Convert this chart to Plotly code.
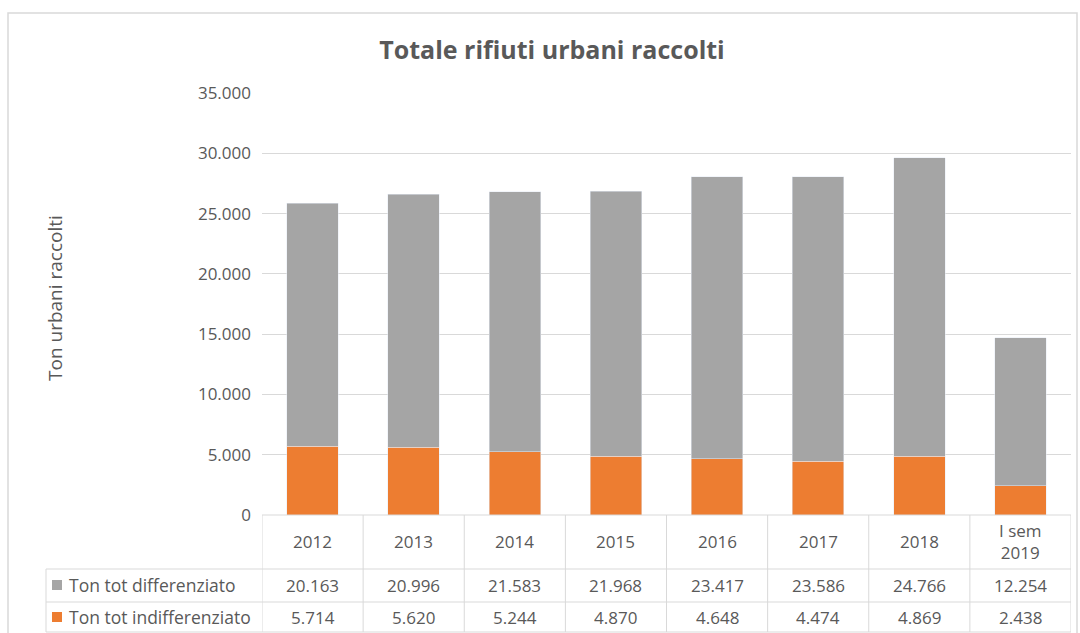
import plotly.graph_objects as go

# dati
categorie = ["2012", "2013", "2014", "2015", "2016", "2017", "2018", "I sem<br>2019"]
differenziato = [20163, 20996, 21583, 21968, 23417, 23586, 24766, 12254]
indifferenziato = [5714, 5620, 5244, 4870, 4648, 4474, 4869, 2438]
nomi_serie = ["Ton tot differenziato", "Ton tot indifferenziato"]
griglia = [5000, 10000, 15000, 20000, 25000, 30000]
tick_y = [0, 5000, 10000, 15000, 20000, 25000, 30000, 35000]

GRIGIO = "#A5A5A5"
ARANCIO = "#ED7D31"
TESTO = "#595959"
LINEA = "#D9D9D9"
FONT = "Open Sans, Lato, sans-serif"

W, H = 1080, 633
L, R, T, B = 262, 1071, 93, 515


def px(x):
    return (x - L) / (R - L)


def py(y):
    return (B - y) / (B - T)


def fmt(v):
    return f"{v:,}".replace(",", ".")


x_idx = list(range(len(categorie)))

fig = go.Figure()
fig.add_trace(go.Bar(x=x_idx, y=indifferenziato, name=nomi_serie[1],
                     marker_color=ARANCIO, yaxis="y"))
fig.add_trace(go.Bar(x=x_idx, y=differenziato, name=nomi_serie[0],
                     marker_color=GRIGIO, yaxis="y"))
# asse solo per le etichette (senza griglia a 35.000)
fig.add_trace(go.Scatter(x=[x_idx[0]], y=[0], yaxis="y2", mode="markers",
                         marker_opacity=0, showlegend=False, hoverinfo="skip"))

shapes = []
ann = []

# bordo esterno
shapes.append(dict(type="rect", xref="paper", yref="paper",
                   x0=px(8), x1=px(1077), y0=py(640), y1=py(13),
                   line=dict(color=LINEA, width=1.5), layer="below"))

# tabella dati
righe_y = [569, 602, 632]
for yy in righe_y:
    shapes.append(dict(type="line", xref="paper", yref="paper",
                       x0=px(46), x1=1, y0=py(yy), y1=py(yy),
                       line=dict(color=LINEA, width=1)))
shapes.append(dict(type="line", xref="paper", yref="paper",
                   x0=0, x1=1, y0=0, y1=0, line=dict(color=LINEA, width=1)))
shapes.append(dict(type="line", xref="paper", yref="paper",
                   x0=px(46), x1=px(46), y0=py(569), y1=py(632),
                   line=dict(color=LINEA, width=1)))
for i in range(len(categorie) + 1):
    shapes.append(dict(type="line", xref="x", yref="paper",
                       x0=i - 0.5, x1=i - 0.5, y0=0, y1=py(632),
                       line=dict(color=LINEA, width=1)))

for i, c in enumerate(categorie):
    ann.append(dict(x=i, y=py(541), xref="x", yref="paper", text=c, yanchor="middle",
                    showarrow=False, font=dict(size=17, color=TESTO)))
    ann.append(dict(x=i, y=py(585), xref="x", yref="paper", text=fmt(differenziato[i]),
                    yanchor="middle", showarrow=False, font=dict(size=17, color=TESTO)))
    ann.append(dict(x=i, y=py(617), xref="x", yref="paper", text=fmt(indifferenziato[i]),
                    yanchor="middle", showarrow=False, font=dict(size=17, color=TESTO)))

# voci di legenda nella tabella
for nome, col, yy in [(nomi_serie[0], GRIGIO, 585), (nomi_serie[1], ARANCIO, 617)]:
    shapes.append(dict(type="rect", xref="paper", yref="paper",
                       x0=px(52), x1=px(62), y0=py(yy + 5), y1=py(yy - 5),
                       fillcolor=col, line=dict(width=0)))
    ann.append(dict(x=px(67), y=py(yy), xref="paper", yref="paper", xanchor="left",
                    yanchor="middle", text=nome,
                    showarrow=False, font=dict(size=17.5, color=TESTO)))

# titolo asse y
ann.append(dict(x=px(55), y=py(298), xref="paper", yref="paper", text="Ton urbani raccolti",
                textangle=-90, xanchor="center", yanchor="middle", showarrow=False,
                font=dict(size=19, color=TESTO)))

fig.update_layout(
    width=W, height=H,
    margin=dict(l=L, r=W - R, t=T, b=H - B),
    paper_bgcolor="white", plot_bgcolor="white",
    barmode="stack", bargap=0.49,
    separators=",.",
    showlegend=False,
    font=dict(family=FONT, color=TESTO),
    title=dict(text="<b>Totale rifiuti urbani raccolti</b>", xref="paper", x=px(552),
               xanchor="center", y=1 - 50 / H, yanchor="middle",
               font=dict(size=25, color=TESTO)),
    xaxis=dict(range=[-0.5, len(categorie) - 0.5], showticklabels=False,
               showgrid=False, zeroline=False, showline=False, ticks=""),
    yaxis=dict(range=[0, 35000], tickvals=griglia, showticklabels=False,
               showgrid=True, gridcolor=LINEA, gridwidth=1, zeroline=False, showline=False),
    yaxis2=dict(range=[0, 35000], overlaying="y", side="left", tickvals=tick_y,
                tickformat=",d", showgrid=False, zeroline=False, showline=False,
                tickfont=dict(size=17, color=TESTO), ticklabelstandoff=10),
    shapes=shapes,
    annotations=ann,
)

fig.write_html("out.html", config={"displayModeBar": False},
               post_script="document.body.style.margin='0';")
